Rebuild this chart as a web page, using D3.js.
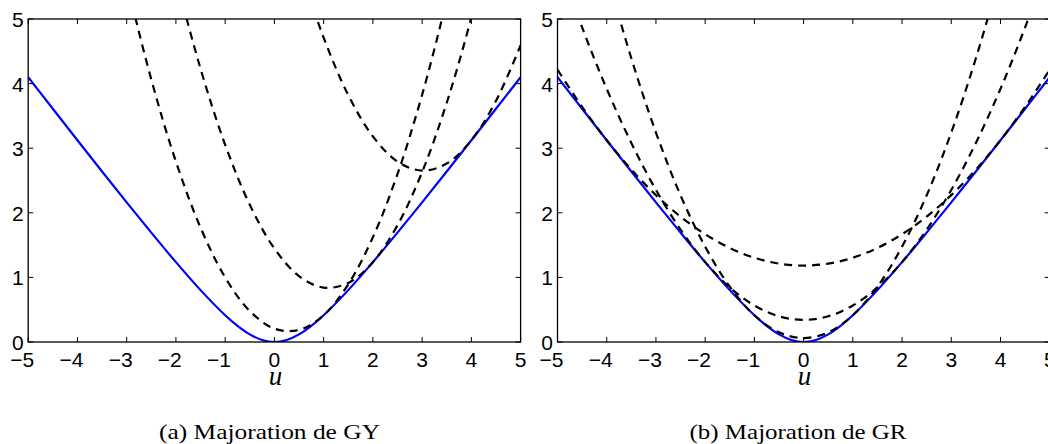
<!DOCTYPE html>
<html>
<head>
<meta charset="utf-8">
<script src="https://cdn.jsdelivr.net/npm/d3@7/dist/d3.min.js"></script>
<style>
  html, body { margin: 0; padding: 0; background: #fff; }
  svg { display: block; }
</style>
</head>
<body>
<svg id="chart" width="1048" height="444"></svg>
<script>
// ---------- data ----------
const xTicks = [-5, -4, -3, -2, -1, 0, 1, 2, 3, 4, 5];
const yTicks = [0, 1, 2, 3, 4, 5];
const xLabel = "u";
const captions = ["(a) Majoration de GY", "(b) Majoration de GR"];

// blue curve (same in both panels)
const blueU = [-5, -4.5, -4, -3.5, -3, -2.5, -2, -1.5, -1, -0.75, -0.5, -0.25, 0, 0.25, 0.5, 0.75, 1, 1.5, 2, 2.5, 3, 3.5, 4, 4.5, 5];
const blueY = [4.099, 3.610, 3.123, 2.640, 2.162, 1.693, 1.236, 0.803, 0.414, 0.25, 0.118, 0.031, 0, 0.031, 0.118, 0.25, 0.414, 0.803, 1.236, 1.693, 2.162, 2.640, 3.123, 3.610, 4.099];

// panel (a) dashed curves
const gyU1 = [-3.5, -3, -2.5, -2, -1.5, -1, -0.5, 0, 0.5, 1, 1.5, 2, 2.5, 3, 3.5, 4];
const gyY1 = [7.357, 5.586, 4.064, 2.793, 1.771, 1.000, 0.479, 0.207, 0.186, 0.414, 0.893, 1.621, 2.600, 3.828, 5.307, 7.035];
const gyU2 = [-2.5, -2, -1.5, -1, -0.5, 0, 0.5, 1, 1.5, 2, 2.5, 3, 3.5, 4, 4.5];
const gyY2 = [7.336, 5.659, 4.231, 3.053, 2.125, 1.447, 1.020, 0.842, 0.914, 1.236, 1.808, 2.631, 3.703, 5.025, 6.597];
const gyU3 = [0, 0.5, 1, 1.5, 2, 2.5, 3, 3.5, 4, 4.5, 5];
const gyY3 = [7.243, 5.853, 4.713, 3.823, 3.183, 2.793, 2.653, 2.763, 3.123, 3.733, 4.593];

// panel (b) dashed curves
const grU1 = [-4.5, -4, -3.5, -3, -2.5, -2, -1.5, -1, -0.5, 0, 0.5, 1, 1.5, 2, 2.5, 3, 3.5, 4, 4.5];
const grY1 = [7.220, 5.718, 4.392, 3.243, 2.270, 1.475, 0.856, 0.414, 0.149, 0.061, 0.149, 0.414, 0.856, 1.475, 2.270, 3.243, 4.392, 5.718, 7.220];
const grU2 = [-5, -4.5, -4, -3.5, -3, -2.5, -2, -1.5, -1, -0.5, 0, 0.5, 1, 1.5, 2, 2.5, 3, 3.5, 4, 4.5, 5];
const grY2 = [5.932, 4.870, 3.919, 3.081, 2.354, 1.739, 1.236, 0.845, 0.565, 0.398, 0.342, 0.398, 0.565, 0.845, 1.236, 1.739, 2.354, 3.081, 3.919, 4.870, 5.932];
const grU3 = [-5, -4.5, -4, -3.5, -3, -2.5, -2, -1.5, -1, -0.5, 0, 0.5, 1, 1.5, 2, 2.5, 3, 3.5, 4, 4.5, 5];
const grY3 = [4.215, 3.639, 3.123, 2.668, 2.274, 1.941, 1.668, 1.456, 1.304, 1.213, 1.183, 1.213, 1.304, 1.456, 1.668, 1.941, 2.274, 2.668, 3.123, 3.639, 4.215];

// ---------- drawing ----------
const svg = d3.select("#chart");
const plotTop = 19, plotBottom = 342;
const panels = [
  { x0: 28.2, x1: 520.6, dashed: [[gyU1, gyY1], [gyU2, gyY2], [gyU3, gyY3]], caption: captions[0], capX: 269.5 },
  { x0: 557.5, x1: 1049.7, dashed: [[grU1, grY1], [grU2, grY2], [grU3, grY3]], caption: captions[1], capX: 798 }
];

const tickFont = "'Liberation Sans', Arial, Helvetica, sans-serif";
const defs = svg.append("defs");

panels.forEach((p, i) => {
  const x = d3.scaleLinear().domain([-5, 5]).range([p.x0, p.x1]);
  const y = d3.scaleLinear().domain([0, 5]).range([plotBottom, plotTop]);
  const g = svg.append("g");

  const clipId = "clip" + i;
  defs.append("clipPath").attr("id", clipId)
    .append("rect").attr("x", p.x0).attr("y", plotTop)
    .attr("width", p.x1 - p.x0).attr("height", plotBottom - plotTop);

  const line = d3.line()
    .x(d => x(d[0])).y(d => y(d[1]))
    .curve(d3.curveCatmullRom.alpha(0.5));

  const plot = g.append("g").attr("clip-path", `url(#${clipId})`);

  plot.append("path")
    .datum(blueU.map((u, k) => [u, blueY[k]]))
    .attr("d", line)
    .attr("fill", "none")
    .attr("stroke", "#0000ff")
    .attr("stroke-width", 2.2);

  p.dashed.forEach(([us, ys]) => {
    plot.append("path")
      .datum(us.map((u, k) => [u, ys[k]]))
      .attr("d", line)
      .attr("fill", "none")
      .attr("stroke", "#000")
      .attr("stroke-width", 2.2)
      .attr("stroke-dasharray", "8,6");
  });

  // ticks inside, on all four sides
  const tl = 5;
  const axG = g.append("g").attr("stroke", "#000").attr("stroke-width", 1);
  xTicks.forEach(t => {
    axG.append("line").attr("x1", x(t)).attr("x2", x(t)).attr("y1", plotBottom).attr("y2", plotBottom - tl);
    axG.append("line").attr("x1", x(t)).attr("x2", x(t)).attr("y1", plotTop).attr("y2", plotTop + tl);
  });
  yTicks.forEach(t => {
    axG.append("line").attr("x1", p.x0).attr("x2", p.x0 + tl).attr("y1", y(t)).attr("y2", y(t));
    axG.append("line").attr("x1", p.x1).attr("x2", p.x1 - tl).attr("y1", y(t)).attr("y2", y(t));
  });

  // box
  g.append("rect")
    .attr("x", p.x0).attr("y", plotTop)
    .attr("width", p.x1 - p.x0).attr("height", plotBottom - plotTop)
    .attr("fill", "none").attr("stroke", "#000").attr("stroke-width", 1.3);

  // x tick labels (digit centred on tick, minus hangs left)
  g.append("g").selectAll("text").data(xTicks).join("text")
    .attr("x", d => x(d) + 5.9)
    .attr("y", 366.5)
    .attr("text-anchor", "end")
    .attr("font-family", tickFont)
    .attr("font-size", 21)
    .attr("fill", "#000")
    .text(d => d < 0 ? "\u2212" + Math.abs(d) : String(d));

  // y tick labels
  g.append("g").selectAll("text").data(yTicks).join("text")
    .attr("x", p.x0 - 4.5)
    .attr("y", d => y(d) + 8)
    .attr("text-anchor", "end")
    .attr("font-family", tickFont)
    .attr("font-size", 21)
    .attr("fill", "#000")
    .text(d => String(d));

  // x axis label
  g.append("text")
    .attr("x", (p.x0 + p.x1) / 2 + 1)
    .attr("y", 385)
    .attr("text-anchor", "middle")
    .attr("font-family", "'Liberation Serif', 'Times New Roman', serif")
    .attr("font-style", "italic")
    .attr("font-size", 27)
    .attr("fill", "#000")
    .text(xLabel);

  // caption
  g.append("text")
    .attr("x", p.capX)
    .attr("y", 439)
    .attr("text-anchor", "middle")
    .attr("font-family", "'Liberation Serif', 'Times New Roman', serif")
    .attr("font-size", 22)
    .attr("textLength", i === 0 ? 221 : 217)
    .attr("lengthAdjust", "spacingAndGlyphs")
    .attr("fill", "#000")
    .text(p.caption);
});
</script>
</body>
</html>
